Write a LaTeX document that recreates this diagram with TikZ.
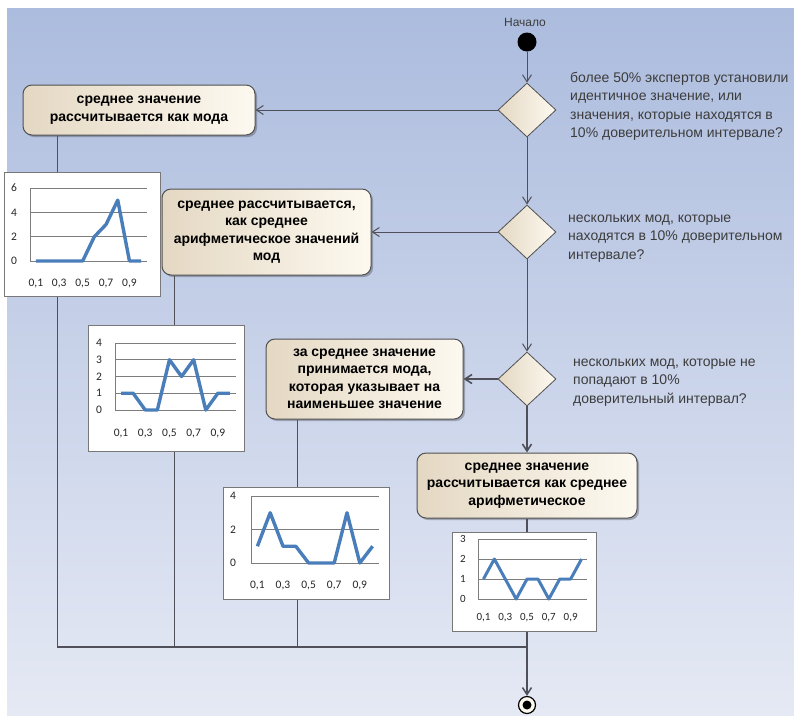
\documentclass[tikz,border=0pt]{standalone}
\usepackage{fontspec}
\setmainfont{Liberation Sans}
\newfontfamily\chartfont{Carlito}
\usetikzlibrary{shapes.geometric,arrows.meta,shadows}

\definecolor{bgtop}{RGB}{172,188,222}
\definecolor{bgbot}{RGB}{229,233,244}
\definecolor{boxL}{RGB}{228,216,195}
\definecolor{boxR}{RGB}{253,249,240}
\definecolor{edgec}{RGB}{80,80,80}
\definecolor{connc}{RGB}{80,80,90}
\definecolor{qtext}{RGB}{60,60,60}
\definecolor{seriesc}{RGB}{74,126,187}
\definecolor{gridc}{RGB}{125,125,125}
\definecolor{framec}{RGB}{120,120,120}

\begin{document}
\begin{tikzpicture}[x=1pt,y=-1pt,
  actbox/.style={draw=edgec, line width=1pt, rounded corners=9pt, left color=boxL, right color=boxR,
    align=center, font=\fontsize{14}{17.5}\selectfont\bfseries, inner sep=0pt,
    drop shadow={shadow xshift=2pt,shadow yshift=-2pt,fill=black,opacity=0.25}},
  decision/.style={diamond, draw=edgec, line width=0.8pt, left color=boxL, right color=boxR,
    inner sep=0pt, minimum width=58pt, minimum height=54pt},
  question/.style={anchor=north west, align=left, text=qtext, font=\fontsize{14}{18.5}\selectfont, inner sep=0pt},
  conn/.style={draw=connc, line width=1pt},
  flow/.style={conn, -{Straight Barb[length=7pt,width=9pt]}},
  chartbox/.style={draw=framec, fill=white, line width=0.8pt, anchor=north west, inner sep=0pt},
  gridl/.style={draw=gridc, line width=0.9pt},
  serie/.style={draw=seriesc, line width=3.4pt, line join=round},
  ticklab/.style={font=\chartfont\fontsize{11.5}{11.5}\selectfont, text=black!85, inner sep=0pt},
]
\useasboundingbox (0,0) rectangle (794,716);
\fill[white] (0,0) rectangle (794,716);
\shade[top color=bgtop, bottom color=bgbot] (7,8) rectangle (794,715);

% nodes
\node[circle, fill=black, minimum size=19pt, inner sep=0pt] (start) at (527,42) {};
\node[font=\fontsize{12}{12}\selectfont, text=qtext, inner sep=0pt] (startlbl) at (525,22) {Начало};
\node[decision] (d1) at (527,110) {};
\node[decision] (d2) at (527,232) {};
\node[decision] (d3) at (527,379) {};

\node[actbox, minimum width=232pt, minimum height=50pt] (b1) at (139,110)
  {среднее значение\\рассчитывается как мода};
\node[actbox, minimum width=209pt, minimum height=86pt] (b2) at (266.5,232)
  {среднее рассчитывается,\\как среднее\\арифметическое значений\\мод};
\node[actbox, minimum width=197pt, minimum height=80pt] (b3) at (364.5,379)
  {за среднее значение\\принимается мода,\\которая указывает на\\наименьшее значение};
\node[actbox, minimum width=220pt, minimum height=65pt] (b4) at (527,485.5)
  {среднее значение\\рассчитывается как среднее\\арифметическое};

\node[circle, draw=black, line width=1.2pt, fill=boxR, minimum size=17pt, inner sep=0pt] (end) at (527,705) {};
\fill[black] (end.center) circle (4.5);

\node[question] (q1) at (570,69) {\strut более 50\% экспертов установили\\идентичное значение, или\\значения, которые находятся в\\10\% доверительном интервале?};
\node[question] (q2) at (568,209) {\strut нескольких мод, которые\\находятся в 10\% доверительном\\интервале?};
\node[question] (q3) at (573,353) {\strut нескольких мод, которые не\\попадают в 10\%\\доверительный интервал?};

% connectors
\coordinate (m1) at (57,647);
\coordinate (m2) at (174,647);
\coordinate (m3) at (297,647);
\coordinate (m4) at (527,647);
\draw[flow] (start) -- (d1);
\draw[flow] (d1) -- (b1);
\draw[flow] (d1) -- (d2);
\draw[flow] (d2) -- (b2);
\draw[flow] (d2) -- (d3);
\draw[flow, line width=1.6pt] (d3) -- (b3);
\draw[flow, line width=1.6pt] (d3) -- (b4);
\draw[conn] (b1.south -| m1) -- (m1);
\draw[conn] (b2.south -| m2) -- (m2);
\draw[conn] (b3.south -| m3) -- (m3);
\draw[conn, line width=1.6pt] (b4) -- (m4);
\draw[conn, line width=2.2pt] (m1) -- (m4);
\draw[flow, line width=1.5pt] (m4) -- (end);

% chart 1
\node[chartbox, minimum width=156pt, minimum height=124pt] (c1) at (4,172) {};
\begin{scope}[shift={(30,261)}, x=11.7pt, y=12.17pt]
  \foreach \v in {0,2,4,6} {\draw[gridl] (0,\v) -- (10,\v); \node[ticklab, xshift=-16pt] (c1y\v) at (0,\v) {\v};}
  \draw[gridl] (0,0) -- (0,6);
  \foreach \k in {1,3,5,7,9} \node[ticklab, yshift=-22pt] (c1x\k) at (\k-0.5,0) {0,\k};
  \draw[serie] plot coordinates {(0.5,0) (1.5,0) (2.5,0) (3.5,0) (4.5,0) (5.5,2) (6.5,3) (7.5,5) (8.5,0) (9.5,0)};
\end{scope}

% chart 2
\node[chartbox, minimum width=156pt, minimum height=126pt] (c2) at (88,325) {};
\begin{scope}[shift={(115,410)}, x=12.1pt, y=16.75pt]
  \foreach \v in {0,1,2,3,4} {\draw[gridl] (0,\v) -- (10,\v); \node[ticklab, xshift=-16pt] (c2y\v) at (0,\v) {\v};}
  \draw[gridl] (0,0) -- (0,4);
  \foreach \k in {1,3,5,7,9} \node[ticklab, yshift=-23pt] (c2x\k) at (\k-0.5,0) {0,\k};
  \draw[serie] plot coordinates {(0.5,1) (1.5,1) (2.5,0) (3.5,0) (4.5,3) (5.5,2) (6.5,3) (7.5,0) (8.5,1) (9.5,1)};
\end{scope}

% chart 3
\node[chartbox, minimum width=166pt, minimum height=112pt] (c3) at (223,487) {};
\begin{scope}[shift={(251,563)}, x=12.8pt, y=16.75pt]
  \foreach \v in {0,2,4} {\draw[gridl] (0,\v) -- (10,\v); \node[ticklab, xshift=-18pt] (c3y\v) at (0,\v) {\v};}
  \draw[gridl] (0,0) -- (0,4);
  \foreach \k in {1,3,5,7,9} \node[ticklab, yshift=-22pt] (c3x\k) at (\k-0.5,0) {0,\k};
  \draw[serie] plot coordinates {(0.5,1) (1.5,3) (2.5,1) (3.5,1) (4.5,0) (5.5,0) (6.5,0) (7.5,3) (8.5,0) (9.5,1)};
\end{scope}

% chart 4
\node[chartbox, minimum width=144pt, minimum height=99pt] (c4) at (452,532) {};
\begin{scope}[shift={(478,599)}, x=10.9pt, y=20pt, ticklab/.append style={font=\chartfont\fontsize{11}{11}\selectfont}]
  \foreach \v in {0,1,2,3} {\draw[gridl] (0,\v) -- (10,\v); \node[ticklab, xshift=-15pt] (c4y\v) at (0,\v) {\v};}
  \draw[gridl] (0,0) -- (0,3);
  \foreach \k in {1,3,5,7,9} \node[ticklab, yshift=-19pt] (c4x\k) at (\k-0.5,0) {0,\k};
  \draw[serie, line width=3pt] plot coordinates {(0.5,1) (1.5,2) (2.5,1) (3.5,0) (4.5,1) (5.5,1) (6.5,0) (7.5,1) (8.5,1) (9.5,2)};
\end{scope}
\end{tikzpicture}
\end{document}
